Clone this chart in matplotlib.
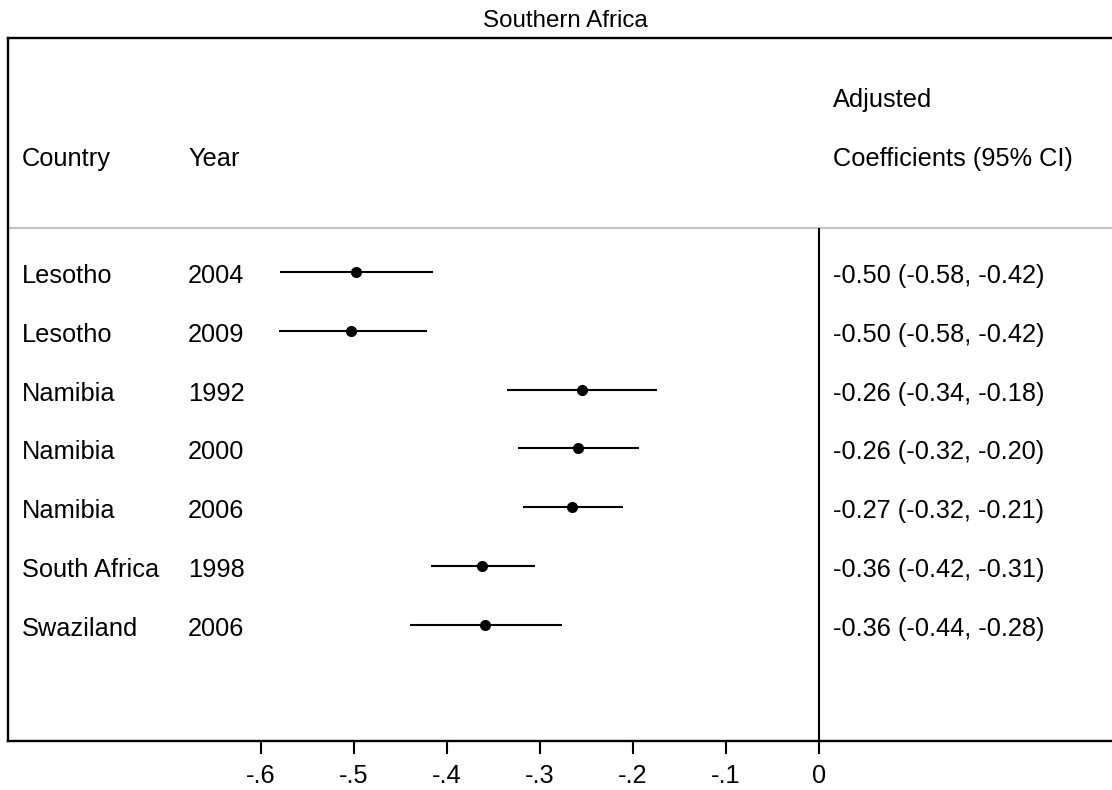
import matplotlib
matplotlib.use("Agg")
import matplotlib.pyplot as plt

# data
countries = ["Lesotho", "Lesotho", "Namibia", "Namibia", "Namibia", "South Africa", "Swaziland"]
years = ["2004", "2009", "1992", "2000", "2006", "1998", "2006"]
coef = [-0.498, -0.503, -0.255, -0.259, -0.266, -0.362, -0.359]
ci_low = [-0.580, -0.581, -0.335, -0.324, -0.318, -0.417, -0.440]
ci_high = [-0.415, -0.422, -0.174, -0.194, -0.211, -0.305, -0.276]
coef_labels = ["-0.50 (-0.58, -0.42)", "-0.50 (-0.58, -0.42)", "-0.26 (-0.34, -0.18)",
               "-0.26 (-0.32, -0.20)", "-0.27 (-0.32, -0.21)", "-0.36 (-0.42, -0.31)",
               "-0.36 (-0.44, -0.28)"]
xticks = [-0.6, -0.5, -0.4, -0.3, -0.2, -0.1, 0]
xtick_labels = ["-.6", "-.5", "-.4", "-.3", "-.2", "-.1", "0"]

plt.rcParams['font.family'] = ['Liberation Sans', 'DejaVu Sans']
fs = 18.3

fig = plt.figure(figsize=(11.12, 7.90), dpi=100)
ax = fig.add_axes([8/1112, 1-741/790, (1122-8)/1112, (741-37.5)/790])

rows = list(range(len(countries)))
ax.hlines(rows, ci_low, ci_high, color="black", lw=1.5, zorder=2)
ax.plot(coef, rows, "o", color="black", ms=7, zorder=3)

# header separator and zero line
ax.axhline(-0.75, color="#c4c4c4", lw=1.6, zorder=1)
ax.vlines(0, -0.75, 7.98, color="black", lw=1.5, zorder=1)

x_country = (22-819)/930
x_year = (188-819)/930
x_coef = (833-819)/930
dy = 0.07  # text sits a little below the marker row

ax.text(x_country, -2 + dy, "Country", fontsize=fs, va="center", ha="left")
ax.text(x_year, -2 + dy, "Year", fontsize=fs, va="center", ha="left")
ax.text(x_coef, -3 + dy, "Adjusted", fontsize=fs, va="center", ha="left")
ax.text(x_coef, -2 + dy, "Coefficients (95% CI)", fontsize=fs, va="center", ha="left")

for i in rows:
    ax.text(x_country, i + dy, countries[i], fontsize=fs, va="center", ha="left")
    ax.text(x_year, i + dy, years[i], fontsize=fs, va="center", ha="left")
    ax.text(x_coef, i + dy, coef_labels[i], fontsize=fs, va="center", ha="left")

ax.set_xlim((8-819)/930, (1122-819)/930)
ax.set_ylim(7.98, -3.99)
ax.set_xticks(xticks)
ax.set_xticklabels(xtick_labels, fontsize=fs)
ax.set_yticks([])
ax.tick_params(axis="x", length=9.5, width=1.5, pad=7, direction="out")

for s in ax.spines.values():
    s.set_linewidth(1.7)
    s.set_color("black")

ax.set_title("Southern Africa", fontsize=fs*0.95, pad=7.5)

fig.savefig("out.png", dpi=100)
